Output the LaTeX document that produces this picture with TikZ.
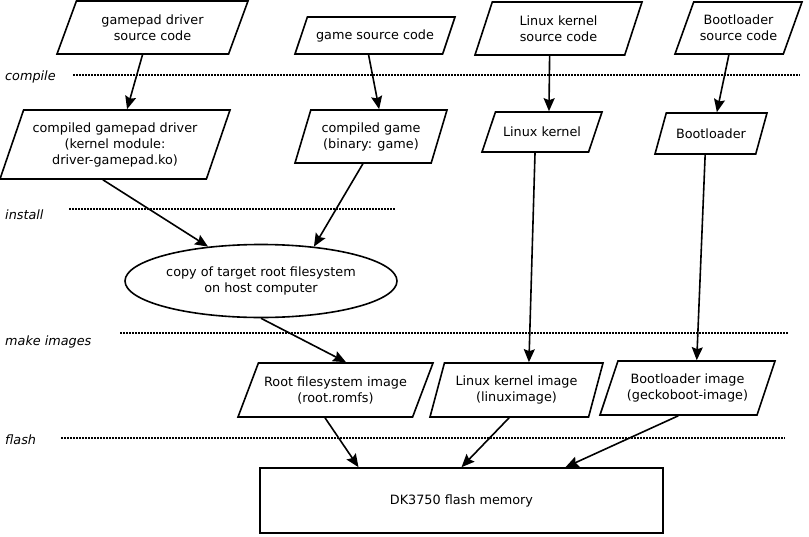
\documentclass[tikz,border=0pt]{standalone}
\usepackage{fontspec}
\setmainfont{DejaVu Sans}
\usetikzlibrary{arrows.meta,shapes.geometric}

\begin{document}
\begin{tikzpicture}[x=1pt, y=-1pt,
      font=\fontsize{12.8}{16}\selectfont,
      data/.style={draw, trapezium, trapezium stretches body=true,
                   line width=1.6pt, align=center, inner sep=2pt},
      lean/.style 2 args={trapezium left angle=#1, trapezium right angle=#2},
      store/.style={draw, ellipse, line width=1.6pt, align=center,
                    minimum width=272pt, minimum height=73pt, inner sep=0pt},
      mem/.style={draw, rectangle, line width=1.6pt, minimum width=403pt, minimum height=65pt},
      stage/.style={anchor=west, inner sep=0pt, font=\fontsize{12.8}{16}\selectfont\itshape},
      sep/.style={line width=1.5pt, dash pattern=on 1.5pt off 1.5pt},
      arr/.style={-{Stealth[length=13pt, width=11pt, inset=2pt]}, line width=1.6pt}]
    \useasboundingbox (0,0) rectangle (809,536);

    % sources
    \node[data, lean={57}{123}, minimum width=191pt, minimum height=53pt] (drvsrc)  at (152.5,27.5) {gamepad driver\\source code};
    \node[data, lean={53}{127}, minimum width=160pt, minimum height=37pt] (gamesrc) at (375,35.5)   {game source code};
    \node[data, lean={60}{120}, minimum width=167pt, minimum height=53pt] (kernsrc) at (558.5,28.5) {Linux kernel\\source code};
    \node[data, lean={58}{122}, minimum width=127pt, minimum height=52pt] (bootsrc) at (738.5,28)   {Bootloader\\source code};

    % compiled
    \node[data, lean={64}{116}, minimum width=230pt, minimum height=69pt] (drv)  at (115,144.5) {compiled gamepad driver\\(kernel module:\\driver-gamepad.ko)};
    \node[data, lean={64}{116}, minimum width=152pt, minimum height=53pt] (game) at (371,136.5) {compiled game\\(binary: game)};
    \node[data, lean={46}{134}, minimum width=120pt, minimum height=40pt] (kern) at (542,132)   {Linux kernel};
    \node[data, lean={51}{129}, minimum width=112pt, minimum height=41pt] (boot) at (711,133.5) {Bootloader};

    \node[store] (rootfs) at (261,281) {copy of target root filesystem\\on host computer};

    % images
    \node[data, lean={57}{123}, minimum width=195pt, minimum height=54pt] (rootimg) at (335.5,390) {Root filesystem image\\(root.romfs)};
    \node[data, lean={66}{114}, minimum width=173pt, minimum height=54pt] (kernimg) at (516.5,390) {Linux kernel image\\(linuximage)};
    \node[data, lean={61}{119}, minimum width=175pt, minimum height=54pt] (bootimg) at (687.5,388) {Bootloader image\\(geckoboot-image)};

    \node[mem] (flash) at (461.5,500.5) {DK3750 flash memory};

    % stages
    \node[stage] (compile) at (5,76.5)  {compile};
    \node[stage] (install) at (5,214.5) {install};
    \node[stage] (mkimg)   at (5,341.5) {make images};
    \node[stage] (flashst) at (5,439.5) {flash};
    \draw[sep] (73,75) -- (800,75);
    \draw[sep] (69,209) -- (395,209);
    \draw[sep] (120,333) -- (788,333);
    \draw[sep] (61,438) -- (785,438);

    \draw[arr] (drvsrc.bottom side) -- (drv.top side);
    \draw[arr] (gamesrc.bottom side) -- (game.top side);
    \draw[arr] (kernsrc.bottom side) -- (kern.top side);
    \draw[arr] (bootsrc.bottom side) -- (boot.top side);

    \draw[arr] (drv.bottom side) -- (rootfs.147);
    \draw[arr] (game.bottom side) -- (rootfs.33);
    \draw[arr] (kern.bottom side) -- ([xshift=5pt]kernimg.top side);
    \draw[arr] (boot.bottom side) -- (bootimg.top side);
    \draw[arr] (rootfs.south) -- (rootimg.top side);

    \draw[arr] (rootimg.bottom side) -- ([xshift=-103pt]flash.north);
    \draw[arr] (kernimg.bottom side) -- (flash.north);
    \draw[arr] (bootimg.bottom side) -- ([xshift=104pt]flash.north);
  \end{tikzpicture}
\end{document}
